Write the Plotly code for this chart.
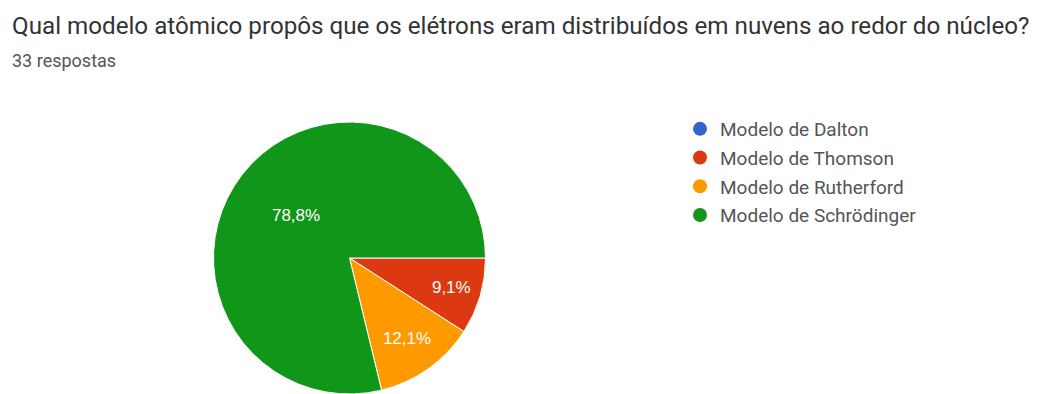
import plotly.graph_objects as go

labels = ["Modelo de Dalton", "Modelo de Thomson", "Modelo de Rutherford", "Modelo de Schrödinger"]
values = [0, 3, 4, 26]
colors = ["#3366cc", "#dc3912", "#ff9900", "#109618"]
title_text = "Qual modelo atômico propôs que os elétrons eram distribuídos em nuvens ao redor do núcleo?"
subtitle_text = "33 respostas"

W, H = 1062, 394
fig = go.Figure()
fig.add_trace(go.Pie(
    labels=labels, values=values, sort=False, direction="clockwise", rotation=90,
    marker=dict(colors=colors, line=dict(color="white", width=1)),
    texttemplate=["" if v == 0 else "%{percent:.1%}" for v in values],
    textposition="inside", insidetextorientation="horizontal",
    textfont=dict(family="Arial", size=17, color="white"),
    domain=dict(x=[212 / W, 487 / W], y=[0, 272 / H]),
    showlegend=False, hoverinfo="label+percent",
))
for i, (lab, col) in enumerate(zip(labels, colors)):
    fig.add_trace(go.Scatter(x=[None], y=[None], mode="markers", name=lab,
                             legendgroup=f"g{i}",
                             marker=dict(symbol="circle", size=14, color=col)))

fig.update_layout(
    width=W, height=H, margin=dict(l=0, r=0, t=0, b=0),
    paper_bgcolor="white", plot_bgcolor="white",
    separators=",.",
    xaxis=dict(visible=False), yaxis=dict(visible=False),
    legend=dict(x=680 / W, y=1 - 110 / H, xanchor="left", yanchor="top",
                font=dict(family="Roboto, Arial", size=19, color="#555555"),
                itemwidth=30, tracegroupgap=1, bgcolor="rgba(0,0,0,0)"),
    annotations=[
        dict(text=title_text, x=10 / W, y=1 - 10 / H, xref="paper", yref="paper",
             xanchor="left", yanchor="top", showarrow=False,
             font=dict(family="Roboto, Arial", size=24.2, color="#333333")),
        dict(text=subtitle_text, x=10 / W, y=1 - 48 / H, xref="paper", yref="paper",
             xanchor="left", yanchor="top", showarrow=False,
             font=dict(family="Roboto, Arial", size=18, color="#555555")),
    ],
)
fig.write_html("out.html")
